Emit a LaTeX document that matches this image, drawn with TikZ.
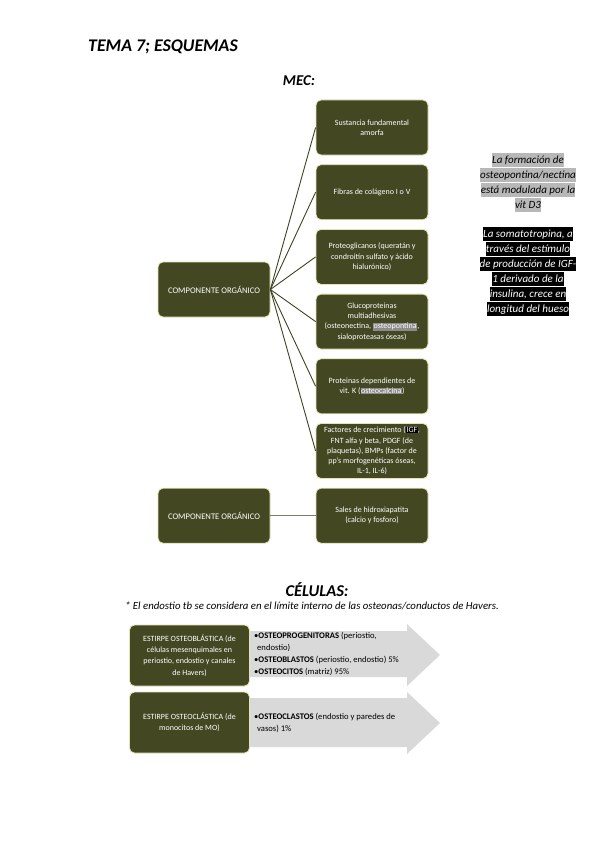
\documentclass[tikz,border=0pt]{standalone}
\usepackage{fontspec}
\setmainfont{Carlito}
\usepackage{xcolor}
\usepackage{tikz}
\usetikzlibrary{positioning}
\definecolor{olivebox}{HTML}{434823}
\definecolor{oliveline}{HTML}{3E4220}
\definecolor{olivegray}{HTML}{7B7D63}
\definecolor{creamedge}{HTML}{E6E3B3}
\definecolor{arrowgray}{HTML}{D9D9D9}
\definecolor{markgray}{HTML}{8C8C8C}
\definecolor{notegray}{HTML}{B8B8B8}
\newcommand{\hlgris}[1]{{\setlength{\fboxsep}{0.6pt}\colorbox{markgray}{#1}}}
\newcommand{\hlnegro}[1]{{\setlength{\fboxsep}{0.6pt}\colorbox{black}{#1}}}
\newcommand{\notaline}[2]{{\setlength{\fboxsep}{0pt}\colorbox{#1}{\rule[-3.6pt]{0pt}{14.6pt}#2}}}

\begin{document}
\begin{tikzpicture}[x=1pt,y=-1pt,
 box/.style={draw=creamedge,line width=0.8pt,rounded corners=5pt,fill=olivebox,text=white,align=center,minimum width=112pt,minimum height=55pt,inner sep=2pt,font=\fontsize{8}{10.3}\selectfont},
 cellbox/.style={box,minimum width=120pt,minimum height=61pt,font=\fontsize{8}{11.3}\selectfont},
 celltext/.style={align=left,inner sep=0pt,font=\fontsize{8.6}{11.8}\selectfont},
 nota/.style={align=center,inner sep=0pt,font=\fontsize{11}{15}\selectfont\itshape},
 head/.style={inner sep=0pt,font=\fontsize{15}{17}\selectfont\bfseries\itshape},
 link/.style={draw=oliveline,line width=0.9pt}]
\useasboundingbox (0,0) rectangle (599,848);
\node[head,anchor=west,font=\fontsize{17.8}{19}\selectfont\bfseries\itshape] (tema) at (88,47) {TEMA 7; ESQUEMAS};
\node[head] (mec) at (299,81) {MEC:};
\node[box] (sust) at (372,127.5) {Sustancia fundamental\\amorfa};
\node[box,below=8.9pt of sust] (fib) {Fibras de colágeno I o V};
\node[box,below=8.9pt of fib] (prot) {Proteoglicanos (queratán y\\condroitín sulfato y ácido\\hialurónico)};
\node[box,below=8.9pt of prot] (gluc) {Glucoproteinas\\multiadhesivas\\(osteonectina, \hlgris{osteopontina},\\sialoproteasas óseas)};
\node[box,below=8.9pt of gluc] (vitk) {Proteinas dependientes de\\vit. K (\hlgris{osteocalcina})};
\node[box,below=8.9pt of vitk] (fact) {Factores de crecimiento (\hlnegro{IGF},\\FNT alfa y beta, PDGF (de\\plaquetas), BMPs (factor de\\pp's morfogenéticas óseas,\\IL-1, IL-6)};
\node[box,below=8.9pt of fact] (sales) {Sales de hidroxiapatita\\(calcio y fosforo)};
\node[box,font=\fontsize{8.6}{10.3}\selectfont] (org) at (214,289.5) {COMPONENTE ORGÁNICO};
\node[box,font=\fontsize{8.6}{10.3}\selectfont] (inorg) at (org |- sales) {COMPONENTE ORGÁNICO};
\draw[link] (org.east)--(sust.west); \draw[link] (org.east)--(fib.west); \draw[link] (org.east)--(prot.west); \draw[link] (org.east)--(gluc.west); \draw[link] (org.east)--(vitk.west); \draw[link] (org.east)--(fact.west);
\draw[link,draw=olivegray] (inorg)--(sales);
\node[nota] (nota1) at (528,182.5) {\notaline{notegray}{La formación de}\\\notaline{notegray}{osteopontina/nectina}\\\notaline{notegray}{está modulada por la}\\\notaline{notegray}{vit D3}};
\node[nota,text=white] (nota2) at (528,271.5) {\notaline{black}{La somatotropina, a}\\\notaline{black}{través del estímulo}\\\notaline{black}{de producción de IGF-}\\\notaline{black}{1 derivado de la}\\\notaline{black}{insulina, crece en}\\\notaline{black}{longitud del hueso}};
\node[head,font=\fontsize{16.5}{18}\selectfont\bfseries\itshape] (cel) at (317,590) {CÉLULAS:};
\node[inner sep=0pt,font=\fontsize{10.8}{12}\selectfont\itshape] (endo) at (312,606) {* El endostio tb se considera en el límite interno de las osteonas/conductos de Havers.};
\fill[arrowgray] (245,631)--(407,631)--(407,624)--(440,655)--(407,686)--(407,677)--(245,677)--cycle;
\fill[arrowgray] (245,698)--(407,698)--(407,692)--(440,723)--(407,754)--(407,747)--(245,747)--cycle;
\node[cellbox] (blast) at (189.5,655.5) {ESTIRPE OSTEOBLÁSTICA (de\\células mesenquimales en\\periostio, endostio y canales\\de Havers)};
\node[cellbox] (clast) at (189.5,722.5) {ESTIRPE OSTEOCLÁSTICA (de\\monocitos de MO)};
\node[celltext,anchor=west] (tblast) at (254,654) {•\textbf{OSTEOPROGENITORAS} (periostio,\\\hspace*{3pt}endostio)\\•\textbf{OSTEOBLASTOS} (periostio, endostio) 5\%\\•\textbf{OSTEOCITOS} (matriz) 95\%};
\node[celltext,anchor=west] (tclast) at (254,723) {•\textbf{OSTEOCLASTOS} (endostio y paredes de\\\hspace*{3pt}vasos) 1\%};
\end{tikzpicture}
\end{document}
